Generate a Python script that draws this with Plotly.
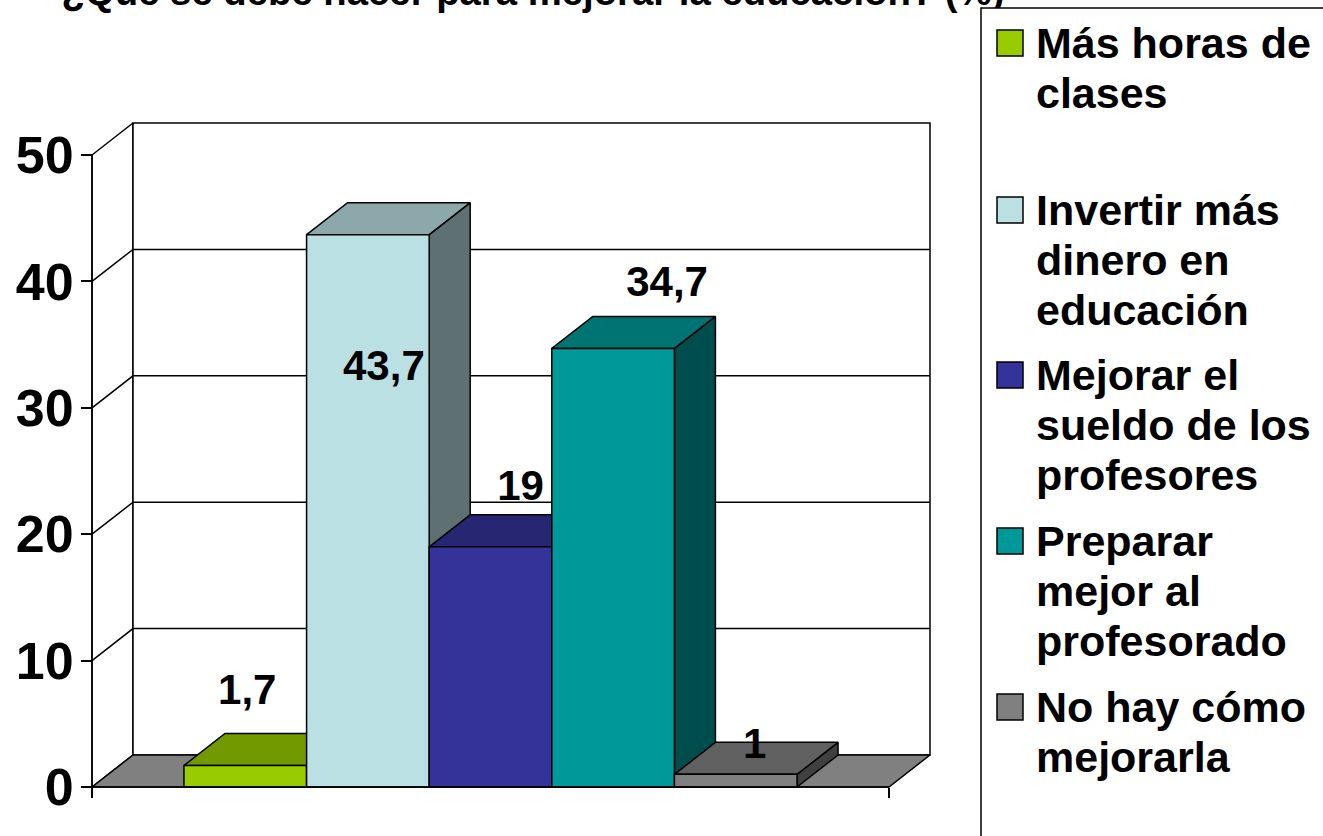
import plotly.graph_objects as go

# ---- data ----
TITLE = "¿Qué se debe hacer para mejorar la educación? (%)"
categories = ["Más horas de clases", "Invertir más dinero en educación",
              "Mejorar el sueldo de los profesores", "Preparar mejor al profesorado",
              "No hay cómo mejorarla"]
values = [1.7, 43.7, 19, 34.7, 1]
value_labels = ["1,7", "43,7", "19", "34,7", "1"]
y_ticks = [0, 10, 20, 30, 40, 50]
legend_lines = [["Más horas de", "clases"],
                ["Invertir más", "dinero en", "educación"],
                ["Mejorar el", "sueldo de los", "profesores"],
                ["Preparar", "mejor al", "profesorado"],
                ["No hay cómo", "mejorarla"]]

# ---- style ----
front = ["#99CC00", "#BBE0E3", "#333399", "#009999", "#808080"]
top = ["#739900", "#8CA8AA", "#262673", "#007373", "#606060"]
side = ["#4D6600", "#5E7072", "#1A1A4D", "#004D4D", "#404040"]
FLOOR = "#808080"
FONT = "Liberation Sans"

# ---- layout geometry (pixels) ----
W, H = 1323, 836
X0, X1, Y0, Y50 = 92, 889, 787, 155
DEPTH_X, DEPTH_Y = 41, 32
N_UNITS = 6.5                 # 5 bars + 150 % gap
GAP = 0.75
ux = (X1 - X0) / N_UNITS
uy = (Y0 - Y50) / 50
dx, dy = DEPTH_X / ux, DEPTH_Y / uy
xmax = N_UNITS
px_x = lambda p: (p - X0) / ux
px_y = lambda p: (Y0 - p) / uy

fig = go.Figure()

def poly(xs, ys, fill, line="black", width=1.5):
    fig.add_trace(go.Scatter(x=xs, y=ys, mode="lines", fill="toself" if fill else None,
                             fillcolor=fill, line=dict(color=line, width=width),
                             cliponaxis=False, hoverinfo="skip", showlegend=False))

# walls and floor
poly([0, dx, dx, 0, 0], [0, dy, 50 + dy, 50, 0], "white")
poly([dx, xmax + dx, xmax + dx, dx, dx], [dy, dy, 50 + dy, 50 + dy, dy], "white")
poly([0, dx, xmax + dx, xmax, 0], [0, dy, dy, 0, 0], FLOOR)
for t in y_ticks[1:-1]:
    poly([0, dx, xmax + dx], [t, t + dy, t + dy], None, width=1.5)

# bars, left to right so that each one hides the previous side face
for i, v in enumerate(values):
    a, b = GAP + i, GAP + i + 1
    poly([b, b + dx, b + dx, b, b], [0, dy, v + dy, v, 0], side[i])
    poly([a, a + dx, b + dx, b, a], [v, v + dy, v + dy, v, v], top[i])
    poly([a, b, b, a, a], [0, 0, v, v, 0], front[i])

# value labels: offset of each label from its bar's top-centre (pixels)
label_offsets = [(2, -72), (16, 135), (30, -57), (54, -63), (19, -27)]
fig.add_trace(go.Scatter(
    x=[GAP + i + 0.5 + o[0] / ux for i, o in enumerate(label_offsets)],
    y=[v - o[1] / uy for v, o in zip(values, label_offsets)],
    mode="text", text=value_labels, textposition="middle center",
    textfont=dict(family=FONT, size=42, color="black", weight="bold"),
    cliponaxis=False, hoverinfo="skip", showlegend=False))

# chart title (partly cut by the page top and hidden by the legend frame)
fig.add_trace(go.Scatter(
    x=[px_x(533)], y=[px_y(15)], mode="text", text=[TITLE], textposition="top center",
    textfont=dict(family=FONT, size=38.3, color="black", weight="bold"),
    cliponaxis=False, hoverinfo="skip", showlegend=False))

# axis lines
poly([0, 0], [0, 50], None)
poly([0, xmax], [0, 0], None)

shapes = [dict(type="rect", xref="paper", yref="paper", layer="above",
               x0=981 / W, x1=1.01, y0=-0.01, y1=1 - 8 / H,
               fillcolor="white", line=dict(color="black", width=1.5))]
annotations = []
line_centres = [[43, 93], [210, 260, 310], [375, 425, 475], [541, 591, 641], [707, 757]]
for lines, centres, colour in zip(legend_lines, line_centres, front):
    c = centres[0]
    shapes.append(dict(type="rect", xref="paper", yref="paper", layer="above",
                       x0=997 / W, x1=1023 / W, y0=1 - (c + 13) / H, y1=1 - (c - 13) / H,
                       fillcolor=colour, line=dict(color="black", width=1.5)))
    for text, cy in zip(lines, centres):
        annotations.append(dict(xref="paper", yref="paper", x=1035 / W, y=1 - cy / H,
                                xanchor="left", yanchor="middle", showarrow=False, text=text,
                                borderpad=0,
                                font=dict(family=FONT, size=43, color="black", weight="bold")))

fig.update_layout(
    width=W, height=H, margin=dict(l=0, r=0, t=0, b=0, pad=0, autoexpand=False),
    paper_bgcolor="white", plot_bgcolor="rgba(0,0,0,0)", showlegend=False,
    shapes=shapes, annotations=annotations,
    xaxis=dict(domain=[0, 1], range=[px_x(0), px_x(W)], anchor="free", position=1 - Y0 / H,
               showgrid=False, zeroline=False, showline=False,
               tickmode="array", tickvals=[0, xmax], ticktext=["", ""],
               ticks="outside", ticklen=10, tickwidth=1.5, tickcolor="black"),
    yaxis=dict(domain=[0, 1], range=[px_y(H), px_y(0)], anchor="free", position=X0 / W,
               showgrid=False, zeroline=False, showline=False,
               tickmode="array", tickvals=y_ticks, ticks="outside", ticklen=11,
               tickwidth=1.5, tickcolor="black", ticklabelstandoff=-3,
               tickfont=dict(family=FONT, size=52, color="black", weight="bold")),
)
fig.write_html("out.html", config={"displayModeBar": False},
               post_script="document.body.style.margin='0';document.body.style.overflow='hidden';")
